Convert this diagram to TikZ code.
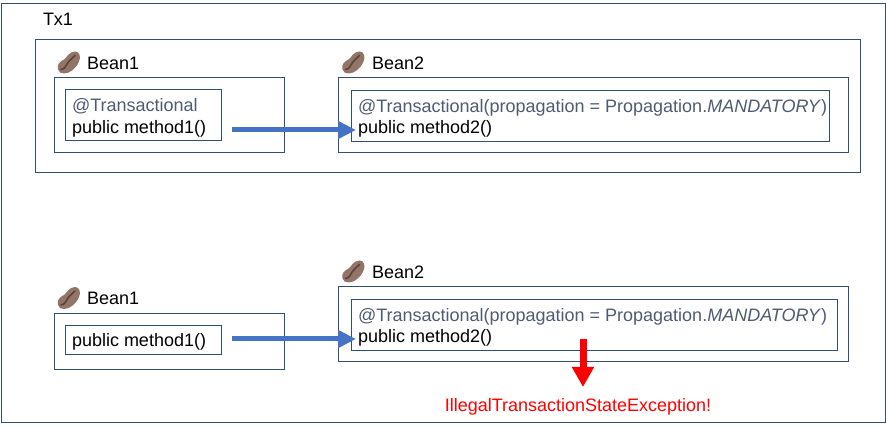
\documentclass[tikz,border=0pt]{standalone}
\usepackage{fontspec}
\setmainfont{Liberation Sans}
\usetikzlibrary{arrows.meta}
\definecolor{frame}{HTML}{2F4F73}
\definecolor{anno}{HTML}{4F5B70}
\definecolor{flow}{HTML}{4472C4}
\definecolor{beanc}{HTML}{917568}
\definecolor{beand}{HTML}{5E4236}
\tikzset{
  x=1pt,y=-1pt,
  box/.style={draw=frame,line width=1pt,inner sep=0pt,outer sep=0pt},
  txt/.style={anchor=base west,inner sep=0pt,outer sep=0pt,font=\fontsize{18}{20}\selectfont},
  ann/.style={txt,text=anno},
  flowarrow/.style={draw=flow,line width=5pt,-{Triangle[length=18pt,width=17pt]}},
  failarrow/.style={draw=red,line width=7pt,-{Triangle[length=20pt,width=21pt]}},
  pics/beanicon/.style={code={
    \fill[beanc] (-11,7) .. controls (-12.5,2) and (-9,-1) .. (-5,-3) .. controls (-2,-5) and (0,-11) .. (6,-11) .. controls (11,-11) and (12,-5) .. (10,-1) .. controls (7,6) and (1,11) .. (-5,11) .. controls (-8,11) and (-10,10) .. (-11,7) -- cycle;
    \draw[beand,line width=1.6pt,line cap=round] (-8,7) .. controls (-4,6.5) and (-3,3) .. (-1,0) .. controls (1,-3) and (3,-4) .. (6,-7);
  }}
}
\begin{document}
\begin{tikzpicture}
\useasboundingbox (0,0) rectangle (886,427);
\node[box,minimum width=884,minimum height=419.5] (outer) at (443,213) {};
\node[box,minimum width=824.5,minimum height=133] (tx) at (447.75,105.75) {};
\node[txt] (txl) at (43,25.5) {Tx1};
% top row
\pic at (69,62.5) {beanicon};
\node[txt] (b1l) at (87,69.7) {Bean1};
\node[box,minimum width=230,minimum height=75] (b1) at (169.5,114.75) {};
\node[box,minimum width=156,minimum height=51] (m1) at (143.5,114.75) {};
\node[ann] (a1) at (72,111.7) {@Transactional};
\node[txt] (s1) at (72,133.7) {public method1()};
\pic at (353.5,62.5) {beanicon};
\node[txt] (b2l) at (372,69.7) {Bean2};
\node[box,minimum width=510,minimum height=75] (b2) at (593,114.75) {};
\node[box,minimum width=478,minimum height=51] (m2) at (590,115.75) {};
\node[ann] (a2) at (358,112.7) {@Transactional(propagation = Propagation.\textit{MANDATORY})};
\node[txt] (s2) at (358,133.7) {public method2()};
\coordinate (f1) at (232,130);
\coordinate (t1) at (356,130);
\draw[flowarrow] (f1) -- (t1);
% bottom row
\pic at (69,298) {beanicon};
\node[txt] (b3l) at (87,304.5) {Bean1};
\node[box,minimum width=230,minimum height=56] (b3) at (169.5,341.3) {};
\node[box,minimum width=156,minimum height=29] (m3) at (143.5,339.8) {};
\node[txt] (s3) at (72,347) {public method1()};
\pic at (353.5,271.5) {beanicon};
\node[txt] (b4l) at (372,278.7) {Bean2};
\node[box,minimum width=510,minimum height=75] (b4) at (593,324.2) {};
\node[box,minimum width=486,minimum height=51] (m4) at (594,324.8) {};
\node[ann] (a4) at (358,321.7) {@Transactional(propagation = Propagation.\textit{MANDATORY})};
\node[txt] (s4) at (358,342.7) {public method2()};
\coordinate (f2) at (232,339);
\coordinate (t2) at (356,339);
\draw[flowarrow] (f2) -- (t2);
\coordinate (f3) at (583,339);
\node[txt,text=red,anchor=base] (err) at (578,411) {IllegalTransactionStateException!};
\coordinate (t3) at (583,387);
\draw[failarrow] (f3) -- (t3);
\end{tikzpicture}
\end{document}
